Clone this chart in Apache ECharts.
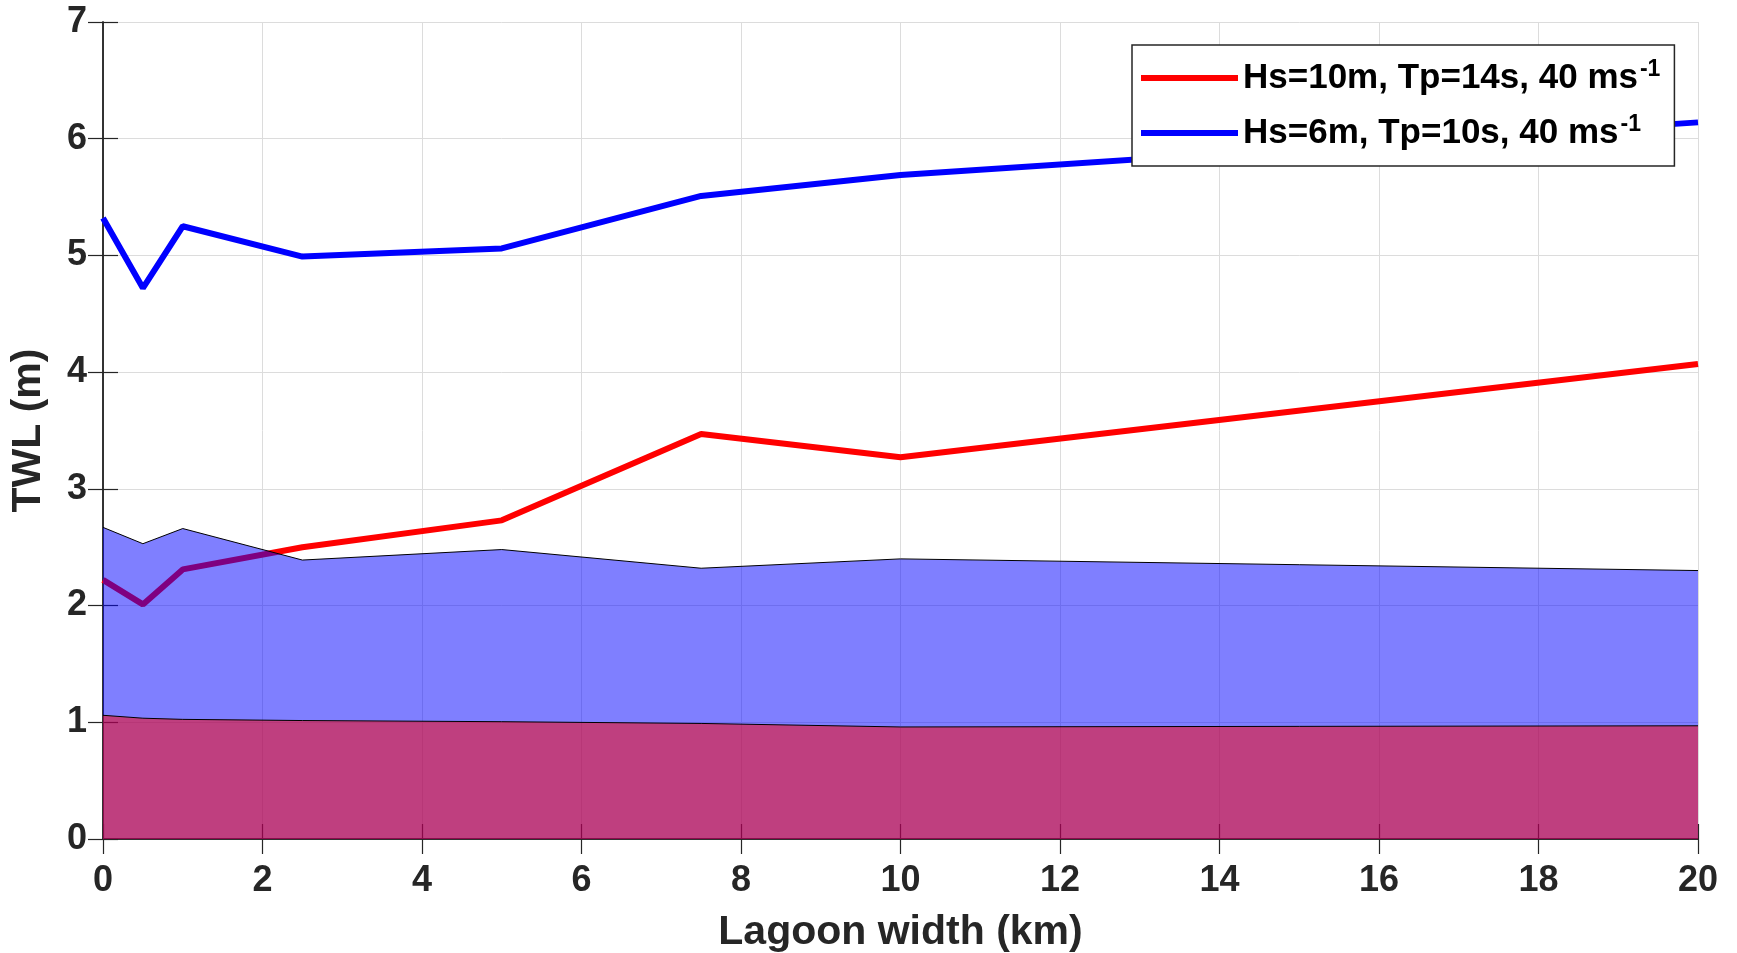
<!DOCTYPE html>
<html>
<head>
<meta charset="utf-8">
<script src="https://cdn.jsdelivr.net/npm/echarts@6/dist/echarts.min.js"></script>
<style>
  html, body { margin: 0; padding: 0; background: #fff; }
  #main { width: 1737px; height: 953px; }
</style>
</head>
<body>
<div id="main"></div>
<script>
// lagoon widths (km)
const widths = [0, 0.5, 1, 2.5, 5, 7.5, 10, 20];
// TWL lines
const twlHs10 = [2.22, 2.01, 2.31, 2.50, 2.73, 3.47, 3.27, 4.07];
const twlHs6 = [5.32, 4.72, 5.25, 4.99, 5.06, 5.51, 5.69, 6.14];
// shaded bands
const bandBlue = [2.67, 2.53, 2.66, 2.39, 2.48, 2.32, 2.40, 2.30];
const bandRed = [1.06, 1.035, 1.025, 1.015, 1.005, 0.99, 0.96, 0.97];
const xTicks = [0, 2, 4, 6, 8, 10, 12, 14, 16, 18, 20];
const yTicks = [0, 1, 2, 3, 4, 5, 6, 7];

const nameHs10 = "Hs=10m, Tp=14s, 40 ms";
const nameHs6 = "Hs=6m, Tp=10s, 40 ms";

const pairs = ys => widths.map((w, i) => [w, ys[i]]);

const font = "Liberation Sans";
const axisColor = "#262626";

const chart = echarts.init(document.getElementById("main"));

const tickAxis = {
  axisLine: { show: true, lineStyle: { color: axisColor, width: 1.5 } },
  axisTick: { show: true, inside: true, length: 15, lineStyle: { color: axisColor, width: 1.2 } },
};

chart.setOption({
  animation: false,
  textStyle: { fontFamily: font },
  grid: { left: 103, right: 39, top: 22, bottom: 114, containLabel: false, outerBoundsMode: "none" },
  legend: {
    data: [nameHs10, nameHs6],
    z: 20,
    orient: "vertical",
    left: 1132,
    top: 45,
    icon: "rect",
    itemWidth: 97,
    itemHeight: 6,
    itemGap: 15,
    itemTextGap: 5,
    padding: [13, 14, 13, 9],
    backgroundColor: "#fff",
    borderColor: axisColor,
    borderWidth: 1.5,
    borderRadius: 0,
    formatter: name => name + "{sup|-1}",
    textStyle: {
      fontFamily: font,
      fontSize: 35,
      fontWeight: "bold",
      color: "#000",
      lineHeight: 40,
      rich: {
        sup: { fontFamily: font, fontSize: 23, fontWeight: "bold", color: "#000", verticalAlign: "top", lineHeight: 14, padding: [0, 0, 0, 2] },
      },
    },
  },
  xAxis: [
    {
      type: "value",
      min: 0,
      max: 20,
      interval: 2,
      name: "Lagoon width (km)",
      nameLocation: "middle",
      nameGap: 73,
      nameTextStyle: { fontFamily: font, fontSize: 41, fontWeight: "bold", color: axisColor },
      ...tickAxis,
      axisLabel: {
        fontFamily: font, fontSize: 36, fontWeight: "bold", color: axisColor, margin: 24,
        formatter: v => (xTicks.includes(v) ? String(v) : ""),
      },
      splitLine: { show: true, lineStyle: { color: "#dcdcdc", width: 1 } },
    },
    {
      type: "value", position: "top", min: 0, max: 20, interval: 2,
      ...tickAxis, axisLabel: { show: false }, splitLine: { show: false },
    },
  ],
  yAxis: [
    {
      type: "value",
      min: 0,
      max: 7,
      interval: 1,
      name: "TWL (m)",
      nameLocation: "middle",
      nameGap: 54,
      nameTextStyle: { fontFamily: font, fontSize: 41, fontWeight: "bold", color: axisColor },
      ...tickAxis,
      axisLabel: {
        fontFamily: font, fontSize: 36, fontWeight: "bold", color: axisColor, margin: 16,
        formatter: v => (yTicks.includes(v) ? String(v) : ""),
      },
      splitLine: { show: true, lineStyle: { color: "#dcdcdc", width: 1 } },
    },
    {
      type: "value", position: "right", min: 0, max: 7, interval: 1,
      ...tickAxis, axisLabel: { show: false }, splitLine: { show: false },
    },
  ],
  series: [
    {
      name: nameHs10,
      type: "line",
      data: pairs(twlHs10),
      symbol: "none",
      z: 2,
      color: "#ff0000",
      lineStyle: { color: "#ff0000", width: 6 },
    },
    {
      name: "band6",
      type: "line",
      data: pairs(bandBlue),
      symbol: "none",
      z: 3,
      lineStyle: { color: "#000", width: 1 },
      areaStyle: { color: "rgba(0,0,255,0.5)", opacity: 1, origin: "start" },
    },
    {
      name: "band10",
      type: "line",
      data: pairs(bandRed),
      symbol: "none",
      z: 4,
      lineStyle: { color: "#000", width: 1 },
      areaStyle: { color: "rgba(255,0,0,0.5)", opacity: 1, origin: "start" },
    },
    {
      name: nameHs6,
      type: "line",
      data: pairs(twlHs6),
      symbol: "none",
      z: 5,
      color: "#0000ff",
      lineStyle: { color: "#0000ff", width: 6 },
    },
  ],
});
</script>
</body>
</html>
